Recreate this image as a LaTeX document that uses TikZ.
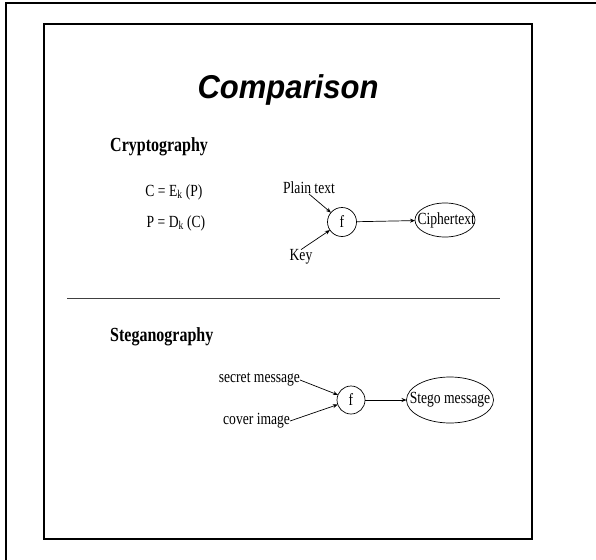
\documentclass[tikz,border=0pt]{standalone}
\usepackage{fontspec}
\usepackage{graphicx}
\setmainfont{Liberation Serif}
\newfontfamily\titlefont{Liberation Sans}
\usetikzlibrary{arrows.meta,shapes.geometric}
\newcommand\narrowtext[1]{\scalebox{0.8}[1]{#1}}
\newcommand\overflowtext[1]{\makebox[0pt]{\scalebox{0.8}[1]{#1}}}
\tikzset{
  frame/.style={line width=1.8pt, black},
  lbl/.style={inner sep=0pt, outer sep=0pt, font=\fontsize{17}{20}\selectfont},
  head/.style={inner sep=0pt, font=\fontsize{20}{24}\selectfont\bfseries, anchor=west},
  fn/.style={circle, draw, line width=0.7pt, minimum size=29pt, inner sep=0pt, outer sep=0pt, font=\fontsize{17}{20}\selectfont},
  oval/.style={ellipse, draw, line width=0.7pt, inner sep=0pt, outer sep=0pt, font=\fontsize{17}{20}\selectfont},
  arr/.style={line width=0.7pt, -{Stealth[length=5pt,width=4pt]}},
}
\begin{document}
\begin{tikzpicture}[x=1pt,y=-1pt]
\useasboundingbox (0,0) rectangle (596,559);
% outer frame (cut by the page at right and bottom)
\draw[frame] (6,600) -- (6,3) -- (620,3);
% inner frame
\draw[frame] (44,24) rectangle (532,539);
% title
\node[anchor=base, inner sep=0pt, font=\titlefont\fontsize{33}{38}\selectfont\bfseries\itshape, xscale=0.94, transform shape] (title) at (288,99) {Comparison};
% cryptography
\node[head] (crypto) at (110,147) {\narrowtext{Cryptography}};
\node[lbl] (enc) at (174,192) {\narrowtext{C = E\textsubscript{k} (P)}};
\node[lbl] (dec) at (176,223) {\narrowtext{P = D\textsubscript{k} (C)}};
\node[lbl] (pt) at (309,188) {\narrowtext{Plain text}};
\node[lbl] (key) at (301,257) {\narrowtext{Key}};
\node[fn] (f1) at (342,222) {\narrowtext{f}};
\node[oval, minimum width=60pt, minimum height=34pt] (ct) at (445,220) {\overflowtext{\hspace{3pt}Ciphertext}};
\draw[arr] (pt.south) -- (f1);
\draw[arr] (key.north) -- (f1);
\draw[arr] (f1) -- (ct);
% separator
\coordinate (sepL) at (67,298.5);
\coordinate (sepR) at (500,298.5);
\draw[line width=1.6pt, black!75] (sepL) -- (sepR);
% steganography
\node[head] (stego) at (110,337) {\narrowtext{Steganography}};
\node[lbl, anchor=east] (sm) at (300,380) {\narrowtext{secret message}};
\node[lbl, anchor=east] (ci) at (290,421) {\narrowtext{cover image}};
\node[fn, minimum size=28pt] (f2) at (351,400) {\narrowtext{f}};
\node[oval, minimum width=87pt, minimum height=46pt] (sg) at (450,400) {\overflowtext{Stego message}};
\draw[arr] (sm.east) -- (f2);
\draw[arr] (ci.east) -- (f2);
\draw[arr] (f2) -- (sg);
\end{tikzpicture}
\end{document}
